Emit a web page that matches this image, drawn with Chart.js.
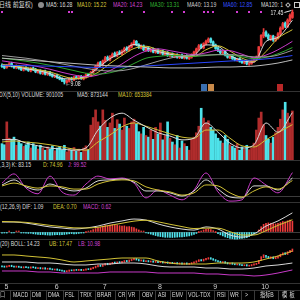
<!DOCTYPE html>
<html>
<head>
<meta charset="utf-8">
<title>K线</title>
<script src="https://cdn.jsdelivr.net/npm/chart.js@4.4.1/dist/chart.umd.min.js"></script>
<style>
body { margin: 0; width: 300px; height: 300px; background: #000; overflow: hidden; position: relative;
       font-family: "Liberation Sans", Arial, "Noto Sans CJK SC", sans-serif; }
canvas { position: absolute; left: 0; }
.t { position: absolute; font-size: 7px; line-height: 8px; white-space: nowrap; color: #dcdcdc;
     transform: scaleX(.74); transform-origin: 0 0; }
.sep { position: absolute; left: 0; width: 300px; height: 1px; background: #333; }
.vl { position: absolute; top: 290px; width: 1px; height: 10px; background: #3a3a3a; }
.icon { position: absolute; box-sizing: border-box; }
</style>
</head>
<body>
<!-- header rows -->
<div class="t" style="left:-1px;top:1px;transform:scaleX(.86)">日线 前复权)</div>
<div class="icon" style="left:38px;top:2px;width:6px;height:6px;border-radius:3px;background:#8c8c8c"></div>
<div class="t" style="left:46px;top:1px">MA5: 16.28</div>
<div class="t" style="left:77px;top:1px;color:#d6c63a">MA10: 15.22</div>
<div class="t" style="left:113px;top:1px;color:#d244d2">MA20: 14.23</div>
<div class="t" style="left:150px;top:1px;color:#32b432">MA30: 13.31</div>
<div class="t" style="left:187px;top:1px;color:#cfcfcf">MA40: 13.19</div>
<div class="t" style="left:223px;top:1px;color:#3350ff">MA60: 12.85</div>
<div class="t" style="left:261px;top:1px">MA120: 1</div>
<div class="icon" style="left:286px;top:3px;width:4px;height:4px;border:1px solid #bbb;transform:rotate(45deg)"></div>
<div class="icon" style="left:294px;top:2px;width:6px;height:6px;border:1px solid #ccc"></div>

<div class="sep" style="top:91px"></div>
<div class="t" style="left:-1px;top:91px">DX(5,10) VOLUME: 901005</div>
<div class="t" style="left:77px;top:91px">MA5: 873144</div>
<div class="t" style="left:118px;top:91px;color:#d6c63a">MA10: 653384</div>

<div class="sep" style="top:160px"></div>
<div class="t" style="left:0;top:161px">,3,3) K: 83.15</div>
<div class="t" style="left:43px;top:161px;color:#d6c63a">D: 74.96</div>
<div class="t" style="left:68px;top:161px;color:#d244d2">J: 99.52</div>

<div class="sep" style="top:202px"></div>
<div class="t" style="left:0;top:203px">(12,26,9) DIF: 1.09</div>
<div class="t" style="left:53px;top:203px;color:#d6c63a">DEA: 0.70</div>
<div class="t" style="left:83px;top:203px;color:#d244d2">MACD: 0.62</div>

<div class="sep" style="top:239px"></div>
<div class="t" style="left:0;top:240px">(20) BOLL: 14.23</div>
<div class="t" style="left:49px;top:240px;color:#d6c63a">UB: 17.47</div>
<div class="t" style="left:78px;top:240px;color:#d244d2">LB: 10.98</div>

<div class="sep" style="top:283px"></div>
<div class="sep" style="top:290px"></div>

<canvas id="kline" width="300" height="82" style="top:9px"></canvas>
<canvas id="vol" width="300" height="61" style="top:99px"></canvas>
<canvas id="kdj" width="300" height="35" style="top:168px"></canvas>
<canvas id="macd" width="300" height="32" style="top:209px"></canvas>
<canvas id="boll" width="300" height="46" style="top:246px"></canvas>

<!-- indicator tabs -->
<div class="t" style="left:0;top:291px;color:#bbb">口</div>
<div class="vl" style="left:10px"></div>
<div class="t" style="left:13px;top:291px">MACD</div>
<div class="vl" style="left:30px"></div>
<div class="t" style="left:32px;top:291px">DMI</div>
<div class="vl" style="left:46px"></div>
<div class="t" style="left:48px;top:291px">DMA</div>
<div class="vl" style="left:63px"></div>
<div class="t" style="left:65px;top:291px">FSL</div>
<div class="vl" style="left:78px"></div>
<div class="t" style="left:80px;top:291px">TRIX</div>
<div class="vl" style="left:95px"></div>
<div class="t" style="left:97px;top:291px">BRAR</div>
<div class="vl" style="left:115px"></div>
<div class="t" style="left:118px;top:291px">CR</div>
<div class="vl" style="left:126px"></div>
<div class="t" style="left:128px;top:291px">VR</div>
<div class="vl" style="left:139px"></div>
<div class="t" style="left:142px;top:291px">OBV</div>
<div class="vl" style="left:155px"></div>
<div class="t" style="left:158px;top:291px">ASI</div>
<div class="vl" style="left:170px"></div>
<div class="t" style="left:172px;top:291px">EMV</div>
<div class="vl" style="left:186px"></div>
<div class="t" style="left:188px;top:291px">VOL-TDX</div>
<div class="vl" style="left:214px"></div>
<div class="t" style="left:217px;top:291px">RSI</div>
<div class="vl" style="left:228px"></div>
<div class="t" style="left:230px;top:291px">WR</div>
<div class="vl" style="left:241px"></div>
<div class="t" style="left:245px;top:291px">&gt;</div>
<div class="vl" style="left:254px"></div>
<div class="t" style="left:260px;top:291px">指标B</div>
<div class="vl" style="left:278px"></div>
<div class="t" style="left:282px;top:291px;letter-spacing:3px">模板</div>

<script>
// ---- daily candles (122 trading days) ----
const open = [11.20,11.10,10.95,11.15,11.40,11.05,10.90,11.10,10.90,10.65,
  10.95,10.80,10.55,10.90,10.75,10.40,10.60,10.25,10.55,10.15,
  10.40,10.15,9.90,10.10,9.85,9.70,9.55,9.25,9.40,9.75,
  9.55,9.90,9.70,9.95,9.65,9.85,10.20,10.00,10.35,10.65,
  11.05,11.50,11.20,11.65,12.10,11.80,12.15,12.55,12.25,12.70,
  12.45,12.75,13.15,12.90,13.25,13.55,13.90,13.55,13.15,13.40,
  12.90,13.15,12.80,13.05,12.65,12.95,12.55,12.80,12.40,12.65,
  12.25,12.50,12.15,12.40,12.05,12.35,12.00,12.30,11.95,12.10,
  12.35,12.65,13.00,13.45,13.15,13.60,13.85,14.20,13.85,13.50,
  13.15,12.90,12.55,12.75,12.40,12.05,12.30,12.00,11.75,11.95,
  11.70,11.45,11.65,11.30,11.40,11.65,11.90,12.15,13.45,14.50,
  14.95,14.60,14.15,14.50,14.00,14.25,14.70,15.35,15.95,15.55,
  16.25,16.60];
const high = [11.35,11.25,11.30,11.50,11.55,11.20,11.25,11.20,11.00,11.00,
  11.05,10.90,10.95,11.00,10.85,10.65,10.70,10.60,10.65,10.45,
  10.50,10.25,10.15,10.20,9.95,9.80,9.60,9.55,9.80,9.85,
  9.95,10.00,10.05,10.05,10.00,10.25,10.30,10.50,10.80,11.20,
  11.55,11.65,11.80,12.20,12.25,12.30,12.60,12.70,12.75,12.85,
  12.95,13.25,13.30,13.45,13.75,14.05,14.00,13.65,13.50,13.50,
  13.20,13.25,13.10,13.15,13.00,13.05,12.85,12.90,12.70,12.75,
  12.55,12.60,12.45,12.50,12.40,12.45,12.35,12.40,12.25,12.50,
  12.80,13.15,13.55,13.60,13.75,14.05,14.30,14.30,13.95,13.60,
  13.25,13.00,12.85,12.85,12.50,12.35,12.40,12.10,12.00,12.05,
  11.80,11.70,11.75,11.55,11.80,12.05,12.25,13.30,14.65,15.35,
  15.10,14.75,14.60,14.60,14.45,14.90,15.55,16.05,16.10,16.45,
  17.00,17.45];
const low = [10.95,10.80,10.85,11.05,11.00,10.85,10.80,10.75,10.60,10.55,
  10.65,10.50,10.45,10.60,10.35,10.30,10.20,10.15,10.10,10.05,
  10.00,9.85,9.80,9.70,9.55,9.35,9.08,9.15,9.30,9.50,
  9.45,9.65,9.60,9.60,9.55,9.75,9.95,9.90,10.25,10.55,
  10.95,11.10,11.10,11.55,11.70,11.70,12.05,12.15,12.15,12.40,
  12.35,12.65,12.80,12.80,13.15,13.45,13.40,13.10,13.05,12.85,
  12.80,12.75,12.70,12.60,12.55,12.50,12.45,12.35,12.30,12.20,
  12.15,12.10,12.05,12.00,11.95,11.95,11.90,11.90,11.85,12.00,
  12.25,12.55,12.90,13.10,13.05,13.50,13.75,13.70,13.35,13.00,
  12.75,12.50,12.45,12.25,12.00,11.95,11.85,11.70,11.65,11.55,
  11.40,11.35,11.25,11.20,11.30,11.55,11.80,12.10,13.35,14.30,
  14.40,14.05,14.00,13.90,13.90,14.15,14.60,15.25,15.45,15.45,
  16.10,16.50];
const close = [11.05,10.90,11.20,11.35,11.10,10.95,11.15,10.85,10.70,10.90,
  10.75,10.60,10.85,10.70,10.45,10.55,10.30,10.50,10.20,10.35,
  10.10,9.95,10.05,9.80,9.65,9.50,9.30,9.45,9.70,9.60,
  9.85,9.75,9.95,9.70,9.90,10.15,10.05,10.40,10.70,11.10,
  11.40,11.25,11.70,12.05,11.85,12.20,12.45,12.30,12.65,12.50,
  12.80,13.10,12.95,13.30,13.60,13.85,13.50,13.20,13.35,12.95,
  13.10,12.85,13.00,12.70,12.90,12.60,12.75,12.45,12.60,12.30,
  12.45,12.20,12.35,12.10,12.30,12.05,12.25,12.00,12.15,12.40,
  12.70,13.05,13.40,13.20,13.65,13.90,14.15,13.80,13.45,13.10,
  12.85,12.60,12.70,12.35,12.10,12.25,11.95,11.80,11.90,11.65,
  11.50,11.60,11.35,11.45,11.70,11.95,12.10,13.30,14.60,14.90,
  14.55,14.20,14.45,14.05,14.30,14.75,15.40,15.90,15.60,16.30,
  16.85,17.20];
// volume, 万手
const volume = [30,28,70,40,38,42,27,35,30,25,
  28,33,22,30,25,20,27,22,18,24,
  20,26,17,22,25,19,27,15,21,18,
  23,16,20,14,22,26,19,64,78,92,
  70,62,92,73,60,68,86,58,74,66,
  55,77,62,58,70,75,66,52,48,60,
  45,42,55,38,60,48,68,37,45,70,
  40,33,28,45,22,35,30,25,18,38,
  42,50,62,95,77,68,72,60,55,48,
  40,35,31,45,38,28,25,22,30,18,
  24,20,27,19,22,31,55,77,88,65,
  45,38,31,42,50,60,75,92,106,86,
  68,90];
const macdBar = [-0.06,-0.05,-0.02,0.02,-0.03,-0.04,0.03,0.05,-0.02,-0.04,
  -0.06,-0.08,-0.07,-0.10,-0.12,-0.13,-0.15,-0.14,-0.16,-0.17,
  -0.18,-0.17,-0.16,-0.15,-0.16,-0.15,-0.14,-0.12,-0.10,-0.09,
  -0.11,-0.10,-0.08,-0.06,-0.04,0.00,0.04,0.08,0.14,0.20,
  0.24,0.28,0.33,0.37,0.36,0.40,0.42,0.38,0.40,0.36,
  0.34,0.35,0.30,0.31,0.28,0.26,0.18,0.12,0.06,0.02,
  -0.04,-0.08,-0.12,-0.16,-0.20,-0.24,-0.26,-0.28,-0.30,-0.30,
  -0.30,-0.31,-0.30,-0.29,-0.28,-0.28,-0.26,-0.24,-0.22,-0.18,
  -0.14,-0.08,0.00,0.06,0.12,0.16,0.18,0.14,0.08,0.00,
  -0.10,-0.16,-0.22,-0.28,-0.32,-0.36,-0.38,-0.40,-0.40,-0.38,
  -0.36,-0.34,-0.32,-0.26,-0.20,-0.12,-0.04,0.12,0.30,0.44,
  0.50,0.52,0.50,0.48,0.46,0.50,0.54,0.60,0.58,0.64,
  0.68,0.62];

// ---- indicator lines, read every 5th day ----
const sampleDays = [0,5,10,15,20,25,30,35,40,45,50,55,60,65,70,75,80,85,90,95,100,105,110,115,121];
const ma5   = [11.15,11.10,10.80,10.60,10.25,9.70,9.65,9.95,10.90,11.95,12.65,13.55,13.20,12.75,12.45,12.15,12.35,13.50,13.35,12.30,11.75,11.55,13.90,14.35,16.28];
const ma10  = [11.30,11.15,10.95,10.70,10.45,10.00,9.70,9.80,10.40,11.40,12.30,13.10,13.35,12.95,12.60,12.30,12.20,12.95,13.40,12.80,12.00,11.65,12.75,14.25,15.22];
const ma20  = [11.70,11.50,11.30,11.05,10.75,10.40,10.10,9.90,10.10,10.60,11.35,12.20,12.80,13.05,12.85,12.60,12.40,12.60,12.90,12.85,12.45,12.05,12.35,12.95,13.90];
const ma30  = [12.00,11.85,11.65,11.45,11.20,10.90,10.60,10.30,10.20,10.35,10.75,11.40,12.00,12.20,12.30,12.30,12.20,12.30,12.40,12.35,12.15,11.95,12.10,12.50,13.20];
const ma40  = [12.30,12.15,12.00,11.80,11.60,11.35,11.10,10.85,10.65,10.55,10.60,10.85,11.25,11.65,12.00,12.25,12.35,12.35,12.40,12.40,12.30,12.15,12.15,12.35,12.90];
const ma60  = [11.20,11.18,11.15,11.12,11.10,11.06,11.02,10.98,10.96,10.97,11.00,11.05,11.12,11.20,11.28,11.36,11.44,11.52,11.60,11.68,11.74,11.80,11.92,12.05,12.30];
const ma120 = [12.00,11.90,11.80,11.70,11.60,11.50,11.40,11.30,11.20,11.15,11.10,11.05,11.00,10.95,10.90,10.90,10.90,10.95,11.00,11.00,11.05,11.10,11.25,11.45,11.80];
const volMa5  = [37,38,31,26,22,20,18,22,55,77,86,73,61,50,44,37,40,68,51,31,22,28,68,51,87];
const volMa10 = [33,35,33,31,28,24,20,18,33,46,61,68,62,55,48,42,40,55,55,40,26,24,37,50,65];
const kdjK = [58,74,52,42,61,48,39,48,71,74,77,67,39,39,33,23,39,74,45,20,17,55,55,42,80];
const kdjD = [55,64,55,48,55,52,45,45,61,71,74,71,52,42,36,26,33,58,55,33,20,39,52,45,72];
const kdjJ = [64,93,48,30,86,36,26,61,86,77,80,64,17,42,26,11,42,96,36,7,11,80,58,33,97];
const dif = [0.57,0.57,0.51,0.40,0.29,0.23,0.17,0.23,0.34,0.51,0.63,0.74,0.68,0.46,0.29,0.17,0.11,0.29,0.17,-0.17,-0.29,-0.11,0.34,0.63,1.09];
const dea = [0.60,0.58,0.55,0.47,0.38,0.31,0.24,0.23,0.27,0.38,0.50,0.62,0.67,0.58,0.44,0.31,0.20,0.22,0.22,0.02,-0.17,-0.17,0.08,0.38,0.70];
const bollUb  = [15.27,15.27,14.90,14.54,14.17,13.45,12.72,13.08,13.45,13.81,14.17,14.17,14.17,13.08,12.35,11.99,11.99,11.99,12.35,12.35,12.35,12.72,13.81,14.90,16.72];
const bollMid = [12.72,12.72,12.72,12.35,12.35,11.99,11.63,11.63,11.99,11.99,12.35,12.35,11.99,11.26,10.90,10.90,10.90,10.53,10.53,10.17,10.17,10.53,11.26,11.63,12.35];
const bollLb  = [9.44,9.44,9.44,9.08,9.08,8.71,8.71,8.71,8.71,9.08,9.08,9.08,9.08,8.71,8.71,8.71,8.71,8.35,8.35,7.99,7.99,7.62,7.99,8.71,9.81];

// month starts on the date axis, news markers and event boxes
const monthDays = [1, 22, 42, 65, 88, 108];
const monthLabels = ['5', '6', '7', '8', '9', '10'];
const newsDays = [0, 28, 29, 50, 59, 71, 76, 84, 86, 88, 98, 103, 108];
const eventDays = [84, 87, 116];

const RED = '#ee3b3b', VRED = '#b02c2c', CYAN = '#4ee2ea';
const WHITE = '#d8d8d8', YELLOW = '#d2c236', MAGENTA = '#c83ac8';
const X_MIN = -0.83, X_MAX = 124.17;

const isUp = close.map((c, i) => c >= open[i]);
const candleColor = isUp.map(u => u ? RED : CYAN);

function series(values) {
    return values.map((v, k) => ({ x: sampleDays[k], y: v }));
}
function lineSet(values, color) {
    return { type: 'line', data: series(values), borderColor: color, borderWidth: 1,
             pointRadius: 0, cubicInterpolationMode: 'monotone', order: 0 };
}
function barSet(data, colors, thickness, order) {
    return { type: 'bar', data: data, backgroundColor: colors, barThickness: thickness,
             grouped: false, minBarLength: 1, order: order };
}
function baseOptions(yMin, yMax) {
    return {
        responsive: false,
        animation: false,
        events: [],
        layout: { padding: 0 },
        plugins: { legend: { display: false }, tooltip: { enabled: false } },
        scales: {
            x: { type: 'linear', min: X_MIN, max: X_MAX, offset: false, display: false },
            y: { min: yMin, max: yMax, display: false }
        }
    };
}
function dottedLevels(levels) {
    return {
        display: true,
        border: { display: false },
        ticks: { display: false },
        grid: { color: '#3c3c3c', drawTicks: false, tickBorderDash: [1, 2] },
        afterBuildTicks: axis => { axis.ticks = levels.map(v => ({ value: v })); }
    };
}
function condensedText(ctx, text, px, py, align) {
    ctx.save();
    ctx.translate(px, py);
    ctx.scale(0.74, 1);
    ctx.textAlign = align;
    ctx.fillText(text, 0, 0);
    ctx.restore();
}

// high / low labels on the price chart
const extremes = {
    id: 'extremes',
    afterDatasetsDraw(chart) {
        const { ctx, scales: { x, y } } = chart;
        const hiVal = Math.max(...high), loVal = Math.min(...low);
        const hi = high.indexOf(hiVal), lo = low.indexOf(loVal);
        ctx.save();
        ctx.fillStyle = '#e4e4e4';
        ctx.strokeStyle = '#e4e4e4';
        ctx.lineWidth = 1;
        ctx.font = '7px "Liberation Sans"';
        ctx.textBaseline = 'middle';
        const hx = x.getPixelForValue(hi), hy = y.getPixelForValue(hiVal);
        ctx.beginPath();
        ctx.moveTo(hx - 1, hy + 0.5);
        ctx.lineTo(hx - 8, hy + 2.5);
        ctx.stroke();
        condensedText(ctx, hiVal.toFixed(2), hx - 9, hy + 3, 'right');
        const lx = x.getPixelForValue(lo), ly = y.getPixelForValue(loVal);
        condensedText(ctx, '←' + loVal.toFixed(2), lx + 1, ly, 'left');
        ctx.restore();
    }
};
const markers = {
    id: 'markers',
    afterDatasetsDraw(chart) {
        const { ctx, chartArea, scales: { x } } = chart;
        const boxColors = ['#3a6fb0', '#c98a4a', '#b82828'];
        ctx.save();
        ctx.fillStyle = '#d23cd2';
        newsDays.forEach(d => ctx.fillRect(Math.round(x.getPixelForValue(d)) - 1, 2, 2, 2));
        eventDays.forEach((d, k) => {
            ctx.fillStyle = boxColors[k];
            ctx.fillRect(Math.round(x.getPixelForValue(d)) - 3, chartArea.bottom - 7, 6, 7);
        });
        ctx.restore();
    }
};

// price panel
new Chart(document.getElementById('kline'), {
    type: 'bar',
    data: { datasets: [
        lineSet(ma120, '#bcbcbc'),
        lineSet(ma60, '#2a46ff'),
        lineSet(ma40, '#9c9c9c'),
        lineSet(ma30, '#2fa52f'),
        lineSet(ma20, MAGENTA),
        lineSet(ma10, YELLOW),
        lineSet(ma5, WHITE),
        barSet(close.map((c, i) => ({ x: i, y: [open[i], c] })), candleColor, 2, 1),
        barSet(close.map((c, i) => ({ x: i, y: [low[i], high[i]] })), candleColor, 1, 2)
    ] },
    options: baseOptions(8.29, 17.56),
    plugins: [extremes, markers]
});

// volume panel
new Chart(document.getElementById('vol'), {
    type: 'bar',
    data: { datasets: [
        lineSet(volMa5, WHITE),
        lineSet(volMa10, YELLOW),
        barSet(volume.map((v, i) => ({ x: i, y: v })), isUp.map(u => u ? VRED : CYAN), 2, 1)
    ] },
    options: baseOptions(0, 112)
});

// KDJ panel
const kdjOpts = baseOptions(1, 111.6);
kdjOpts.scales.y = Object.assign({ min: 1, max: 111.6 }, dottedLevels([20, 80]));
new Chart(document.getElementById('kdj'), {
    type: 'line',
    data: { datasets: [
        lineSet(kdjD, YELLOW),
        lineSet(kdjK, WHITE),
        lineSet(kdjJ, MAGENTA)
    ] },
    options: kdjOpts
});

// MACD panel
const macdOpts = baseOptions(-0.51, 1.31);
macdOpts.scales.y = Object.assign({ min: -0.51, max: 1.31 }, dottedLevels([0]));
new Chart(document.getElementById('macd'), {
    type: 'bar',
    data: { datasets: [
        lineSet(dea, YELLOW),
        lineSet(dif, WHITE),
        barSet(macdBar.map((v, i) => ({ x: i, y: v })), macdBar.map(v => v >= 0 ? RED : CYAN), 1, 1)
    ] },
    options: macdOpts
});

// BOLL panel with the date axis
const bollOpts = baseOptions(5.07, 18.54);
bollOpts.scales.x = {
    type: 'linear', min: X_MIN, max: X_MAX, offset: false,
    grid: { display: false, drawTicks: false }, border: { display: false },
    afterBuildTicks: axis => { axis.ticks = monthDays.map(v => ({ value: v })); },
    afterFit: axis => { axis.height = 9; },
    ticks: {
        autoSkip: false, maxRotation: 0, align: 'start', padding: 0, color: '#d0d0d0',
        font: { size: 7, family: '"Liberation Sans"' },
        callback: (value, index) => monthLabels[index]
    }
};
new Chart(document.getElementById('boll'), {
    type: 'bar',
    data: { datasets: [
        lineSet(bollLb, MAGENTA),
        lineSet(bollMid, WHITE),
        lineSet(bollUb, YELLOW),
        barSet(close.map((c, i) => ({ x: i, y: [low[i], high[i]] })), candleColor, 1, 1)
    ] },
    options: bollOpts
});
</script>
</body>
</html>
